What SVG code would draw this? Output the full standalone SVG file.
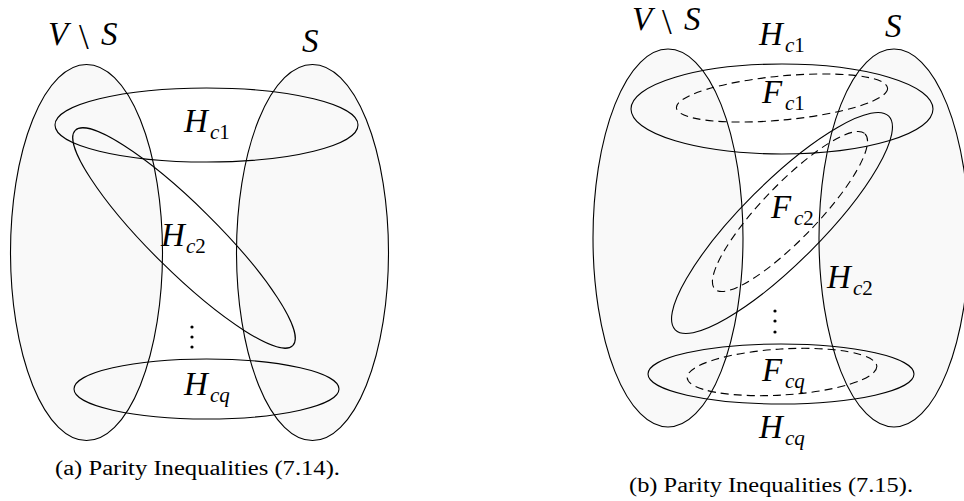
<svg xmlns="http://www.w3.org/2000/svg" width="964" height="501" viewBox="0 0 964 501">
<style>
.set{fill:#f9f9f9;stroke:#000;stroke-width:1.1}
.h{fill:none;stroke:#000;stroke-width:1.1}
.f{fill:none;stroke:#000;stroke-width:1.1;stroke-dasharray:8,5}
.m{font-family:"Liberation Serif",serif;font-style:italic;font-size:33px;fill:#000}
.r{font-style:normal}
.sub{font-size:21px}
.bs{font-family:"Liberation Serif",serif;font-size:35px;fill:#000}
.cap{font-family:"Liberation Serif",serif;font-size:20px;fill:#000}
.dot{fill:#000}
</style>
<rect width="964" height="501" fill="#fff"/>

<!-- (a) -->
<g id="a-VminusS">
<ellipse class="set" cx="86.5" cy="252.5" rx="76" ry="188"/>
</g>
<g id="a-S">
<ellipse class="set" cx="312.5" cy="252.5" rx="76" ry="188"/>
</g>
<g id="a-Hc1">
<ellipse class="h" cx="206.5" cy="125" rx="151.5" ry="37"/>
<text class="m" x="184" y="132">H<tspan class="sub" x="210" y="139">c</tspan><tspan class="sub r">1</tspan></text>
</g>
<g id="a-Hc2">
<ellipse class="h" cx="184" cy="238" rx="153" ry="33" transform="rotate(44.7 184 238)"/>
<text class="m" x="161" y="246">H<tspan class="sub" x="186" y="253">c</tspan><tspan class="sub r">2</tspan></text>
</g>
<g id="a-Hcq">
<ellipse class="h" cx="206.5" cy="389" rx="132.5" ry="30"/>
<text class="m" x="184" y="395">H<tspan class="sub" x="210" y="402">c</tspan><tspan class="sub">q</tspan></text>
</g>
<g id="a-labels">
<text class="m" x="48" y="45">V</text>
<text class="bs" x="79" y="49">\</text>
<text class="m" x="101" y="45">S</text>
<text class="m" x="302" y="52">S</text>
<circle class="dot" cx="192" cy="327" r="1.6"/>
<circle class="dot" cx="192" cy="337" r="1.6"/>
<circle class="dot" cx="192" cy="347" r="1.6"/>
<text class="cap" x="55" y="475" textLength="285" lengthAdjust="spacingAndGlyphs">(a) Parity Inequalities (7.14).</text>
</g>

<!-- (b) -->
<g id="b-VminusS">
<ellipse class="set" cx="668" cy="238" rx="75" ry="189"/>
</g>
<g id="b-S">
<ellipse class="set" cx="894" cy="238" rx="75" ry="189"/>
</g>
<g id="b-Hc1">
<ellipse class="h" cx="782" cy="109" rx="151" ry="45"/>
<text class="m" x="759" y="45">H<tspan class="sub" x="785" y="52">c</tspan><tspan class="sub r">1</tspan></text>
</g>
<g id="b-Fc1">
<ellipse class="f" cx="782" cy="98" rx="106" ry="22" transform="rotate(-5.4 782 98)"/>
<text class="m" x="762" y="103">F<tspan class="sub" x="785" y="110">c</tspan><tspan class="sub r">1</tspan></text>
</g>
<g id="b-Hc2">
<ellipse class="h" cx="782" cy="223" rx="151" ry="40" transform="rotate(-45 782 223)"/>
<text class="m" x="827" y="288">H<tspan class="sub" x="853" y="295">c</tspan><tspan class="sub r">2</tspan></text>
</g>
<g id="b-Fc2">
<ellipse class="f" cx="790" cy="211.5" rx="108" ry="27.5" transform="rotate(-46 790 211.5)"/>
<text class="m" x="771" y="218">F<tspan class="sub" x="794" y="225">c</tspan><tspan class="sub r">2</tspan></text>
</g>
<g id="b-Hcq">
<ellipse class="h" cx="781" cy="374" rx="133" ry="30"/>
<text class="m" x="759" y="438">H<tspan class="sub" x="785" y="445">c</tspan><tspan class="sub">q</tspan></text>
</g>
<g id="b-Fcq">
<ellipse class="f" cx="782" cy="372" rx="95" ry="23" transform="rotate(-3.5 782 372)"/>
<text class="m" x="762" y="381">F<tspan class="sub" x="785" y="388">c</tspan><tspan class="sub">q</tspan></text>
</g>
<g id="b-labels">
<text class="m" x="632" y="30">V</text>
<text class="bs" x="662" y="34">\</text>
<text class="m" x="684" y="30">S</text>
<text class="m" x="885" y="37">S</text>
<circle class="dot" cx="775" cy="311" r="1.6"/>
<circle class="dot" cx="775" cy="321" r="1.6"/>
<circle class="dot" cx="775" cy="332" r="1.6"/>
<text class="cap" x="629" y="492" textLength="284" lengthAdjust="spacingAndGlyphs">(b) Parity Inequalities (7.15).</text>
</g>
</svg>
